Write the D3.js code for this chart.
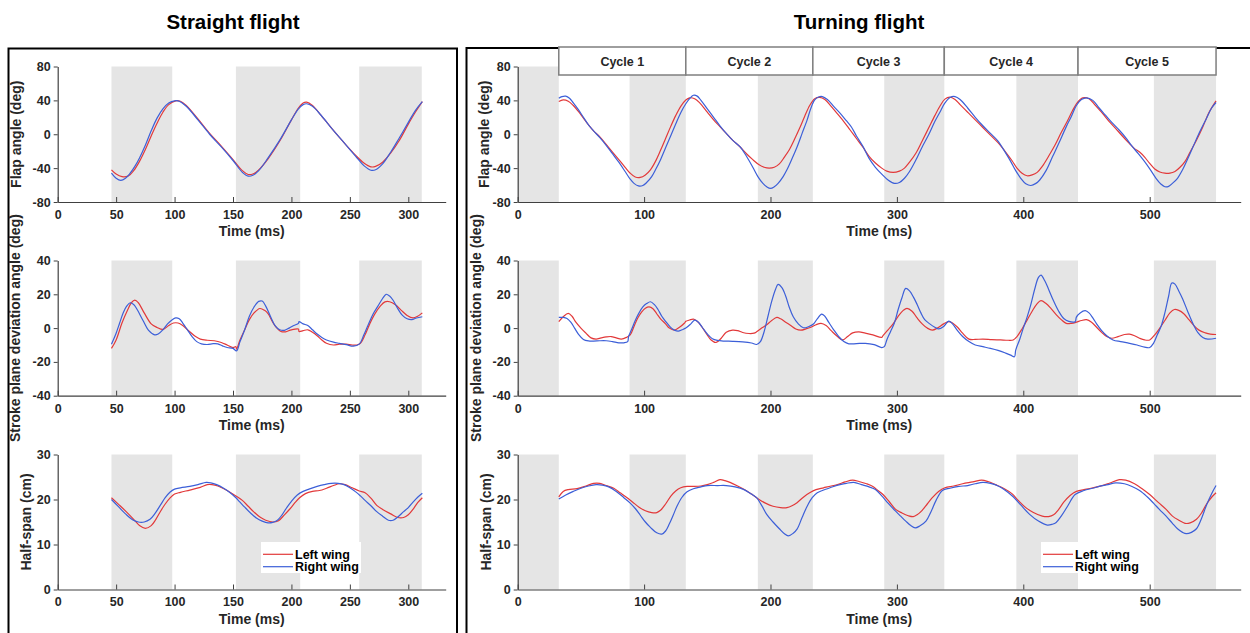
<!DOCTYPE html>
<html>
<head>
<meta charset="utf-8">
<script src="https://cdn.jsdelivr.net/npm/d3@7"></script>
<style>
  body { margin: 0; background: #fff; }
  svg { display: block; font-family: Arial, "Liberation Sans", sans-serif; }
</style>
</head>
<body>
<svg id="fig" width="1250" height="633"></svg>
<script>
// ---------------------------------------------------------------- data
// [tempo ms, valor]
const straightShade = [[46, 98], [152.5, 207.5], [258, 311.5]];
const turningShade = [[0, 32.5], [88.5, 133], [190, 233.5], [290, 337.5], [394.5, 443.3], [503.3, 552.5]];
const cycleEdges = [32.5, 133, 233.5, 337.5, 443.3, 552.5];
const cycleNames = ['Cycle 1', 'Cycle 2', 'Cycle 3', 'Cycle 4', 'Cycle 5'];

const straightTicks = [0, 50, 100, 150, 200, 250, 300];
const turningTicks = [0, 100, 200, 300, 400, 500];

const straightFlapLeft = [[46,-42],[50,-47],[55,-50],[60,-49.5],[65,-43],[70,-32],[75,-18],[80,-2],[85,13],[90,26],[95,35],[101,39.5],[105,39],[110,34],[120,18],[130,1],[140,-14],[150,-30],[158,-43],[163,-47.5],[167,-47],[172,-42],[180,-29],[190,-8],[200,17],[206,31],[210,37],[213,38],[218,34],[225,23],[235,6],[245,-10],[255,-25],[262,-34],[268,-38.5],[272,-38],[278,-33],[285,-22],[292,-8],[300,12],[306,26],[312,38.5]];
const straightFlapRight = [[46,-46],[50,-52],[54,-54.5],[58,-52],[62,-46],[66,-38],[70,-28],[75,-13],[80,4],[85,19],[90,30],[95,37],[100,39.5],[104,39],[110,33],[120,17],[130,0],[140,-15],[150,-31],[158,-45],[163,-49.5],[167,-48.5],[172,-43],[180,-28],[190,-7],[200,17],[206,30],[210,35],[213,36],[218,33],[225,23],[235,6],[245,-10],[255,-26],[262,-37],[268,-42.5],[272,-42],[278,-35],[285,-21],[292,-5],[300,14],[306,28],[312,38.5]];

const straightStrokeLeft = [[46,-12],[50,-7],[55,3],[60,11],[63,15],[66,16.6],[69,15],[74,9],[80,2.5],[85,0.4],[90,-0.8],[95,1.5],[99,3],[103,3],[107,1.5],[112,-1.5],[118,-5],[122,-6.5],[128,-7.2],[134,-7.5],[140,-8.5],[145,-10],[150,-11.5],[152.5,-11],[153,-12.5],[156,-7],[160,-1],[164,5],[168,9],[173,11.6],[177,10.5],[180,8.5],[184,3.5],[187,0.4],[191,-2],[195,-2.2],[200,-1],[206,-0.6],[206.5,-2],[210,-1.5],[214,-1],[218,-2.5],[222,-4.5],[226,-7],[230,-9],[236,-10],[241,-9.5],[247,-9.5],[252,-10],[256,-10],[259,-9],[263,-4],[267,2.5],[271,8],[276,13],[280,15.5],[284,15.6],[289,13.8],[294,10.5],[299,7.5],[304,6],[308,7],[312,9]];
const straightStrokeRight = [[46,-9.5],[50,-3],[53,3],[56,9],[59,13],[62,15],[65,14],[68,11],[73,4.5],[78,-1.5],[83,-4],[86,-3.5],[90,-1],[94,2.5],[98,5],[101,6],[104,5.5],[107,3],[111,-1],[115,-5],[119,-8],[123,-9.3],[128,-9.7],[133,-9.2],[137,-9.3],[141,-10.5],[145,-11.5],[150,-12],[153,-13.5],[156,-8],[160,-1],[164,7],[168,12.5],[172,15.8],[175,16],[178,13],[182,7],[186,1.5],[190,-1],[194,-1.3],[198,0],[202,1.5],[206,2.8],[206.5,3.8],[210,2.5],[214,1.5],[218,-1],[222,-3.5],[226,-5.5],[230,-7],[236,-8.3],[241,-9],[247,-9.8],[253,-10.7],[258,-9.5],[262,-4],[266,2.5],[270,8.5],[274,13],[278,17.5],[281,20],[284,19],[287,16.5],[291,11.5],[295,7.5],[299,5.5],[303,5],[307,6],[312,6.7]];

const straightSpanLeft = [[46,20.4],[53,18.7],[59,17.2],[65,15.6],[70,14.2],[75,13.6],[80,14.2],[84,15.6],[88,17.4],[92,19],[96,20.3],[100,21.2],[105,21.6],[113,22.1],[122,22.7],[128,23.3],[132,23.3],[137,23],[145,22],[153,20.7],[158,19.8],[163,18.5],[168,17.2],[173,16.1],[178,15.4],[184,15],[189,15.3],[194,16.6],[199,18],[203,19.3],[207,20.4],[212,21.3],[218,21.8],[224,22],[230,22.5],[236,23.1],[241,23.5],[246,23.3],[252,22.6],[258,21.9],[263,21.5],[268,20.3],[273,18.7],[278,17.8],[285,16.8],[291,16],[296,16],[300,16.6],[304,17.8],[308,19.3],[312,20.4]];
const straightSpanRight = [[46,20],[52,18.4],[58,16.8],[64,15.5],[69,15],[74,15],[79,15.6],[83,16.8],[88,18.8],[92,20.4],[96,21.6],[100,22.3],[105,22.6],[113,22.9],[120,23.3],[127,23.8],[131,23.7],[136,23.3],[142,22.5],[147,21.6],[152,20.5],[156,19.4],[160,18.3],[165,17],[170,15.9],[175,15.2],[180,14.8],[184,14.9],[188,15.4],[192,16.6],[196,18.2],[200,19.6],[205,21],[210,21.8],[215,22.3],[222,22.9],[228,23.3],[234,23.6],[240,23.6],[245,23.3],[250,22.6],[255,21.7],[259,20.8],[263,19.8],[268,18.6],[273,17.3],[278,16.3],[283,15.4],[287,15.4],[291,16.1],[296,17.3],[300,18.2],[304,19.4],[308,20.5],[312,21.4]];

const turningFlapLeft = [[32.5,38.7],[36,40.5],[40,39],[44,34],[48,27],[52,19],[56,11],[60,4],[65,-3],[70,-12],[75,-21],[80,-30],[85,-39],[89,-46],[93,-50.5],[97,-51],[101,-48],[105,-42],[109,-32],[113,-19],[117,-5],[121,9],[125,22],[129,33],[133,40.5],[136,43],[140,42],[144,37],[150,26],[155,17],[160,9],[165,1],[170,-7],[176,-15],[181,-23],[186,-30],[191,-36],[195,-39],[199,-40],[203,-39],[207,-35],[211,-27],[215,-18],[219,-6],[223,7],[227,21],[231,34],[235,42],[239,43.5],[243,41],[248,33],[253,24],[258,15],[263,5],[268,-5],[273,-15],[278,-26],[283,-34],[288,-40],[292,-43.5],[297,-45],[302,-43.5],[306,-40],[310,-33],[315,-22.5],[320,-8],[325,7],[330,22],[334,33],[338,41.5],[342,43.8],[346,41],[350,35],[356,26],[362,17],[368,8],[374,-1],[380,-10],[386,-21],[391,-31],[395,-40],[399,-46],[403,-49],[407,-48],[411,-45],[415,-38],[420,-26],[425,-13],[430,2],[435,16],[439,28],[443,38],[447,43],[452,42],[457,34],[463,24],[468,15],[473,7],[478,-1.5],[484,-11],[488,-17],[492,-21],[496,-27],[500,-34.5],[504,-41],[508,-44.5],[512,-46],[516,-46],[520,-44],[524,-39],[528,-32],[532,-21],[537,-7],[542,8.6],[547,26],[552.5,39.5]];
const turningFlapRight = [[32.5,42.6],[35,44.5],[38,45],[41,42.5],[44,37],[48,29],[52,20],[56,11],[60,4],[65,-4],[70,-13],[75,-23],[80,-33],[85,-44],[89,-53],[92,-58],[95.5,-61],[99,-60.5],[102,-57],[106,-50],[109,-42],[113,-30],[117,-16],[121,-2],[125,12],[129,25.5],[133,36],[136,42],[139,46],[142,45],[145,40],[150,30],[155,20],[160,10],[165,1],[170,-7],[176,-15],[181,-26],[186,-39],[190,-50],[194,-58],[197,-62],[200,-64],[203,-62],[206,-58],[210,-50],[213,-42],[217,-29],[221,-15],[225,1],[229,17],[232,31],[235,40.5],[238,44],[241,44.5],[245,41],[250,33],[255,25],[260,16],[264,8.6],[268,-2],[273,-14],[278,-28.5],[283,-39],[288,-47],[293,-54],[298,-58],[302,-57],[306,-52],[310,-44],[315,-30.5],[320,-15],[325,-1],[330,15],[334,26],[338,37],[342,43.5],[346,44.5],[350,41],[356,31],[362,20],[368,10],[374,1],[380,-8],[386,-22],[390,-32],[394,-43],[398,-52],[402,-58.5],[406,-60.5],[410,-58],[413,-54],[418,-43],[423,-27],[428,-11],[434,9],[438,21],[442,34],[446,41],[450,43],[455,40],[460,31],[465,22.5],[470,14],[476,4.7],[481,-4],[486,-14],[491,-23],[497,-34.4],[501,-43],[505,-52],[509,-59],[512,-62],[515,-61.5],[518,-58],[522,-52],[526,-42],[531,-26],[536,-9],[540,4],[545,19],[549,31],[552.5,37.5]];

const turningStrokeLeft = [[32.5,3.8],[36,6.7],[40,8.7],[43,7],[46,3.5],[50,0],[54,-3],[58,-5.8],[62,-6.5],[66,-5.8],[70,-5.2],[74,-5],[78,-5.8],[82,-6.5],[86,-5.5],[89,-4],[92,1],[95,6],[98,9.5],[101,11.8],[104,12.6],[107,11.5],[110,8.5],[113,5.5],[117,2.5],[120,0],[124,-1.2],[128,0.5],[132,3],[133,4],[136,4.8],[139,5.3],[142,4],[145,1.5],[149,-3],[153,-7],[157,-8.5],[161,-6],[165,-2.5],[170,-1.2],[174,-1.5],[178,-2.6],[183,-3.2],[187,-3],[189,-2.2],[193,0],[197,2],[201,4.5],[205,6.3],[208,5.5],[212,3.5],[216,1.5],[220,-0.5],[224,-1.2],[228,-0.5],[232,0.5],[236,2],[240,2.8],[244,1.5],[248,-1.5],[253,-5],[257,-7],[261,-5],[265,-2.8],[270,-2.2],[275,-3],[281,-4],[288,-5.5],[289,-4.5],[293,-1],[297,2.5],[301,7],[305,10.5],[308,11.7],[312,10],[316,6],[320,2.5],[324,0],[328,-1.2],[332,0],[337,2.5],[341,3.8],[344,3],[348,0.5],[352,-3],[357,-6.5],[362,-6.7],[368,-6.5],[375,-6.8],[382,-7],[388,-7.2],[392,-7],[395,-5],[399,-0.5],[403,4.7],[407,10],[411,14.5],[414,16.2],[418,14.5],[422,11.5],[426,8],[430,5],[434,2.8],[438,2.8],[442,3.5],[446,4.5],[450,5],[454,3.5],[458,0.5],[462,-2.5],[466,-5],[470,-6],[475,-5],[480,-3.8],[484,-3.6],[488,-4.5],[492,-6],[496,-7],[500,-7],[504,-4],[508,0],[512,4.5],[516,9],[519.5,11],[523,10.5],[527,8.5],[531,5],[535,1.5],[539,-1.2],[544,-2.8],[548,-3.6],[552.5,-3.8]];
const turningStrokeRight = [[32.5,6.3],[36,6.3],[39,5.7],[42,3.5],[45,0],[48,-3.5],[52,-6.7],[56,-7.6],[60,-7.7],[65,-7.5],[70,-7.5],[75,-8],[80,-8.7],[84,-8.7],[87,-8],[87.7,-5],[90,-1],[93,4.5],[96,9],[99,12.5],[102,14.5],[105,15.6],[108,14],[111,11],[114,7],[117,4],[121,0.4],[124,-1.2],[127,-1.8],[130,-1],[133,0],[137,2.5],[140,4.7],[143,3.5],[146,0.5],[150,-3.5],[154,-6.3],[158,-7.3],[163,-7.7],[170,-7.8],[178,-8.1],[185,-8.8],[189,-9.7],[192,-8],[195,-2],[198,7],[201,16],[204,23],[206,25.9],[209,24],[212,19],[215,12],[218,6.7],[222,2.5],[226,0.2],[230,0.8],[234,2.4],[237,5.5],[240.5,8.3],[243,7],[246,3.5],[250,-1],[254,-5],[258,-8],[262,-9.3],[268,-9.2],[275,-9],[282,-9.8],[288,-11.5],[290,-11],[292,-7],[295,-2],[298,3],[301,11],[304,18],[307,23.5],[310,22],[313,18.5],[316,14],[319,9],[322,5],[326,2.5],[330,0.5],[333,-0.5],[337,1],[341,4.1],[344,2.5],[348,-1.5],[352,-5],[357,-8],[362,-10],[368,-11],[374,-12],[380,-13.2],[386,-14.8],[390,-16],[393,-17],[394,-13],[397,-7],[400,0],[403,6.5],[406,14],[409,23],[412,30],[414,31.4],[417,28],[420,23],[424,16],[428,10],[432,5.7],[436,4],[441,3.8],[442,6.5],[445,9],[449,10.3],[452,9],[455,6],[458,2.5],[462,-1.5],[466,-4.5],[471,-7],[477,-8],[484,-9],[490,-10],[496,-11.3],[500,-11.5],[503,-9],[506,-4],[509,1],[512,9],[515,19],[517.5,26.7],[520,26],[523,22],[526,17.4],[530,10],[534,3],[538,-2.5],[542,-5.5],[546,-6.5],[552.5,-6]];

const turningSpanLeft = [[32.5,20.6],[36,21.8],[40,22.2],[47,22.4],[54,23],[60,23.6],[65,23.6],[70,23.1],[76,22.5],[81,21.5],[86,20.5],[91,19.4],[96,18.3],[101,17.5],[106,17.1],[110,17.1],[113,17.6],[117,19],[121,20.7],[125,21.9],[129,22.6],[134,22.9],[139,22.9],[145,23],[150,23.3],[155,23.8],[160,24.4],[164,24.2],[168,23.8],[174,23],[180,22.1],[186,21],[191,20],[196,19.2],[202,18.5],[208,18.2],[213,18.2],[217,18.6],[221,19.3],[226,20.5],[231,21.5],[236,22.2],[242,22.6],[248,23],[253,23.3],[259,23.9],[265,24.3],[270,24],[276,23.5],[281,22.9],[285,22],[289,21.1],[294,19.5],[299,17.8],[304,17],[309,16.4],[313,16.2],[316,16.6],[320,17.6],[324,19],[328,20.4],[333,21.8],[338,22.6],[345,23],[352,23.5],[360,23.9],[367,24.3],[372,24],[378,23.3],[385,22.4],[391,21.3],[396,19.8],[402,18.2],[408,17.1],[415,16.3],[420,16.2],[424,16.6],[428,17.8],[432,19.4],[437,20.9],[442,21.8],[450,22.3],[460,22.9],[468,23.6],[476,24.4],[481,24.3],[488,23.5],[494,22.4],[500,21.1],[507,19.3],[513,17.8],[518,16.3],[523,15.4],[528,14.7],[532,14.8],[537,15.6],[541,17],[545,19],[549,20.5],[552.5,21.5]];
const turningSpanRight = [[32.5,20.1],[38,21],[44,21.8],[50,22.5],[56,23],[62,23.3],[67,23.2],[72,22.8],[78,21.8],[84,20.4],[89,19.2],[93,18],[97,16.5],[101,15],[105,13.8],[110,12.6],[114,12.3],[117,13],[120,14.6],[123,16.5],[126,18.5],[130,20.5],[134,21.7],[139,22.4],[145,22.8],[150,23.1],[158,23.1],[165,23.1],[172,22.8],[179,22.2],[185,21.2],[189,20.4],[193,18.7],[197,16.7],[202,15],[207,13.5],[211,12.4],[214,11.9],[218,12.5],[221,13.4],[225,16],[229,18.5],[233,20.4],[237,21.5],[241,22],[245,22.4],[250,22.9],[255,23.3],[260,23.6],[266,23.8],[272,23.3],[278,22.8],[283,22.2],[288,20.8],[293,19.2],[299,17.4],[303,16.3],[307,15.2],[311,14.2],[314.5,13.7],[318,14.1],[323,15.2],[327,17.3],[331,19.8],[336,22],[342,22.5],[349,22.9],[356,23.1],[362,23.5],[368,23.8],[374,23.6],[381,22.9],[387,21.8],[392,20.6],[398,18.8],[405,16.7],[412,15.2],[419,14.3],[423,14.5],[426,14.9],[430,16.3],[435,18.5],[441,21.1],[448,22],[455,22.5],[460,22.9],[467,23.3],[473,23.7],[480,23.5],[486,22.9],[492,22],[498,20.6],[503,19.2],[508,17.7],[513,16.3],[518,14.7],[522,13.5],[526,12.7],[529,12.4],[533,12.7],[537,13.5],[541,15.8],[545,18.8],[549,21.3],[552.5,23.1]];

// ---------------------------------------------------------------- layout
const RED = '#e2393a', BLUE = '#3c5fd8', SHADE = '#e5e5e5', INK = '#262626';
const FONT = 'Arial, "Liberation Sans", sans-serif';

const sides = [
  { title: 'Straight flight', titleX: 233, x0: 57.7, x1: 445.7, tmax: 332, ticks: straightTicks,
    shade: straightShade, labelX: [-36.5, -37.7, -26.7], legendX: 263,
    series: [[straightFlapLeft, straightFlapRight], [straightStrokeLeft, straightStrokeRight], [straightSpanLeft, straightSpanRight]] },
  { title: 'Turning flight', titleX: 859, x0: 517.7, x1: 1240.7, tmax: 572, ticks: turningTicks,
    shade: turningShade, labelX: [-28.7, -36.7, -26.7], legendX: 1043,
    series: [[turningFlapLeft, turningFlapRight], [turningStrokeLeft, turningStrokeRight], [turningSpanLeft, turningSpanRight]] },
];

const rows = [
  { label: 'Flap angle (deg)', dom: [-80, 80], ticks: [-80, -40, 0, 40, 80], top: 66.5, bottom: 202 },
  { label: 'Stroke plane deviation angle (deg)', dom: [-40, 40], ticks: [-40, -20, 0, 20, 40], top: 260.5, bottom: 395.7 },
  { label: 'Half-span (cm)', dom: [0, 30], ticks: [0, 10, 20, 30], top: 454.5, bottom: 589.5 },
];

// hífen simples como no original (d3 usaria o sinal U+2212)
const fmtTick = (d) => String(d);

const svg = d3.select('#fig');

// molduras dos dois painéis
svg.append('rect').attr('x', 8.5).attr('y', 48.5).attr('width', 448.5).attr('height', 620)
  .attr('fill', 'none').attr('stroke', '#000').attr('stroke-width', 2);
svg.append('rect').attr('x', 466.5).attr('y', 48).attr('width', 820).attr('height', 620)
  .attr('fill', 'none').attr('stroke', '#000').attr('stroke-width', 2);

for (const side of sides) {
  svg.append('text').attr('x', side.titleX).attr('y', 29)
    .attr('text-anchor', 'middle').attr('font-size', 20.5).attr('font-weight', 'bold')
    .attr('fill', '#000').text(side.title);

  const x = d3.scaleLinear().domain([0, side.tmax]).range([side.x0, side.x1]);

  rows.forEach((row, i) => {
    const y = d3.scaleLinear().domain(row.dom).range([row.bottom, row.top]);
    const g = svg.append('g');

    // faixas cinzas
    g.selectAll('rect.shade').data(side.shade).join('rect')
      .attr('class', 'shade')
      .attr('x', (d) => x(d[0])).attr('width', (d) => x(d[1]) - x(d[0]))
      .attr('y', y(row.dom[1])).attr('height', y(row.dom[0]) - y(row.dom[1]))
      .attr('fill', SHADE);

    const line = d3.line().x((d) => x(d[0])).y((d) => y(d[1]))
      .curve(d3.curveCatmullRom.alpha(0.5));
    const [leftWing, rightWing] = side.series[i];
    g.append('path').attr('d', line(leftWing)).attr('fill', 'none')
      .attr('stroke', RED).attr('stroke-width', 1.2);
    g.append('path').attr('d', line(rightWing)).attr('fill', 'none')
      .attr('stroke', BLUE).attr('stroke-width', 1.2);

    // eixos: y com ticks para fora, x com ticks para dentro (como no original)
    const ay = g.append('g').attr('transform', `translate(${side.x0},0)`)
      .call(d3.axisLeft(y).tickValues(row.ticks).tickFormat(fmtTick)
        .tickSizeInner(4).tickSizeOuter(0).tickPadding(3));
    const ax = g.append('g').attr('transform', `translate(0,${row.bottom})`)
      .call(d3.axisBottom(x).tickValues(side.ticks).tickFormat(fmtTick)
        .tickSizeInner(-5).tickSizeOuter(0).tickPadding(8));
    for (const a of [ax, ay]) {
      a.select('.domain').attr('stroke', '#404040').attr('stroke-width', 1.2);
      a.selectAll('.tick line').attr('stroke', '#404040');
      a.selectAll('.tick text').attr('fill', INK).attr('font-size', 12.5).attr('font-weight', 'bold')
        .attr('font-family', FONT);
    }

    g.append('text').attr('x', (side.x0 + side.x1) / 2).attr('y', row.bottom + 34)
      .attr('text-anchor', 'middle').attr('font-size', 14).attr('font-weight', 'bold')
      .attr('fill', INK).text('Time (ms)');

    g.append('text')
      .attr('transform', `translate(${side.x0 + side.labelX[i]},${(row.top + row.bottom) / 2}) rotate(-90)`)
      .attr('text-anchor', 'middle').attr('font-size', 14).attr('font-weight', 'bold')
      .attr('fill', INK).text(row.label);

    if (i === 2) {
      const lg = g.append('g').attr('transform', `translate(${side.legendX},0)`);
      lg.append('rect').attr('x', -2).attr('y', 542).attr('width', 100).attr('height', 31).attr('fill', '#fff');
      [['Left wing', RED, 554.3], ['Right wing', BLUE, 566.7]].forEach(([name, color, ly]) => {
        lg.append('line').attr('x1', 0).attr('x2', 30).attr('y1', ly).attr('y2', ly)
          .attr('stroke', color).attr('stroke-width', 1.2);
        lg.append('text').attr('x', 32).attr('y', ly + 4.4).attr('font-size', 12.5)
          .attr('font-weight', 'bold').attr('fill', '#000').text(name);
      });
    }
  });

  // cabeçalho dos ciclos (só no voo em curva)
  if (side.title === 'Turning flight') {
    const hg = svg.append('g');
    cycleNames.forEach((name, k) => {
      const a = x(cycleEdges[k]), b = x(cycleEdges[k + 1]);
      hg.append('rect').attr('x', a).attr('y', 47).attr('width', b - a).attr('height', 28)
        .attr('fill', '#fff').attr('stroke', '#7f7f7f').attr('stroke-width', 1.5);
      hg.append('text').attr('x', (a + b) / 2).attr('y', 65.5).attr('text-anchor', 'middle')
        .attr('font-size', 12.5).attr('font-weight', 'bold').attr('fill', INK).text(name);
    });
  }
}
</script>
</body>
</html>
